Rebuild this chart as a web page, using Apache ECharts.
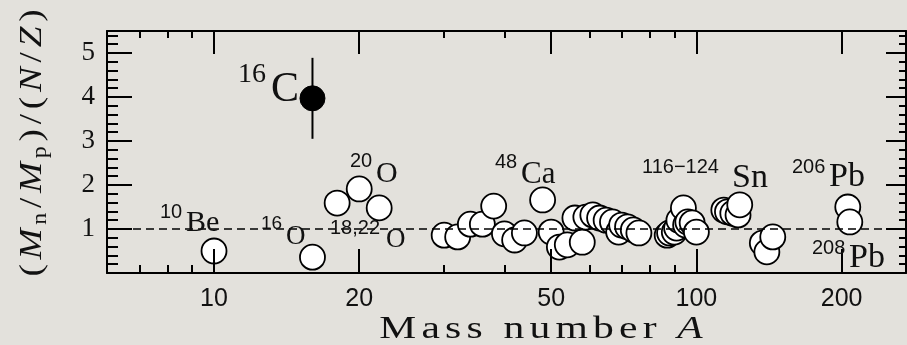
<!DOCTYPE html>
<html><head><meta charset="utf-8">
<script src="https://cdn.jsdelivr.net/npm/echarts@6/dist/echarts.min.js"></script>
<style>html,body{margin:0;padding:0;background:#e3e1dc;} #c{width:907px;height:345px;}</style>
</head><body><div id="c"></div><script>
// ---- data (mass number A, ratio (Mn/Mp)/(N/Z)) ----
const massNumbers = [10, 16, 18, 20, 22, 30, 32, 34, 36, 38, 40, 42, 44, 48, 50, 52, 54, 58, 56, 59, 61, 63, 65, 67, 69, 70, 72, 74, 76, 87, 88, 90, 91, 92, 94, 95, 96, 98, 100, 114, 116, 119, 122, 123, 137, 140, 144, 206, 208];
const ratios      = [0.50, 0.36, 1.59, 1.91, 1.48, 0.86, 0.82, 1.11, 1.11, 1.52, 0.89, 0.75, 0.91, 1.66, 0.93, 0.59, 0.64, 0.70, 1.25, 1.27, 1.32, 1.25, 1.20, 1.16, 0.93, 1.09, 1.05, 0.98, 0.91, 0.86, 0.91, 0.93, 1.02, 1.20, 1.48, 1.09, 1.16, 1.14, 0.93, 1.43, 1.39, 1.36, 1.32, 1.55, 0.68, 0.48, 0.82, 1.50, 1.16];
const carbonMass  = [16];
const carbonRatio = [3.97];
const carbonError = [0.92];
const referenceLevel = 1;
// ---- ticks ----
const xMajorTicks = [10, 20, 50, 100, 200];
const xMinorTicks = [7, 8, 9, 30, 40, 60, 70, 80, 90];
const xRange = [6, 272];
const yMajorTicks = [0, 1, 2, 3, 4, 5];
const yTickLabels = [1, 2, 3, 4, 5];
const yMinorTicks = [0.2, 0.4, 0.6, 0.8, 1.2, 1.4, 1.6, 1.8, 2.2, 2.4, 2.6, 2.8, 3.2, 3.4, 3.6, 3.8, 4.2, 4.4, 4.6, 4.8, 5.2, 5.4];
const yRange = [0, 5.5];

const lg = Math.log10;
const SERIF = 'Liberation Serif';
const SANS = 'Liberation Sans';

function xAxisDef(pos, ticks, len, showLine, labels) {
  return {
    type: 'value', position: pos, min: lg(xRange[0]), max: lg(xRange[1]), z: 10,
    splitLine: {show: false},
    axisLine: {show: showLine, onZero: false, lineStyle: {color: '#000', width: 2}},
    axisTick: {show: true, inside: true, length: len, customValues: ticks.map(lg), lineStyle: {color: '#000', width: 2}},
    axisLabel: labels ? {show: true, customValues: ticks.map(lg), margin: 14,
      formatter: v => String(Math.round(Math.pow(10, v))),
      fontFamily: SANS, fontSize: 25, color: '#111'} : {show: false}
  };
}
function yAxisDef(pos, ticks, len, showLine, labels) {
  return {
    type: 'value', position: pos, min: yRange[0], max: yRange[1], z: 10,
    splitLine: {show: false},
    axisLine: {show: showLine, onZero: false, lineStyle: {color: '#000', width: 2}},
    axisTick: {show: true, inside: true, length: len, customValues: ticks, lineStyle: {color: '#000', width: 2}},
    axisLabel: labels ? {show: true, customValues: labels, margin: 12,
      fontFamily: SERIF, fontSize: 27, color: '#111'} : {show: false}
  };
}

const pointData = massNumbers.map((a, i) => [lg(a), ratios[i]]);
const carbonData = carbonMass.map((a, i) => [lg(a), carbonRatio[i], carbonError[i]]);

const labelItems = [
  {t: '10', x: 160, y: 212, s: 20, f: SANS},
  {t: 'Be', x: 186, y: 223, s: 30, f: SERIF},
  {t: '16', x: 238, y: 75, s: 28, f: SERIF},
  {t: 'C', x: 271, y: 90, s: 42, f: SERIF},
  {t: '16', x: 261, y: 224, s: 19, f: SANS},
  {t: 'O', x: 286, y: 237, s: 27, f: SERIF},
  {t: '18,22', x: 330, y: 228, s: 20, f: SANS},
  {t: 'O', x: 386, y: 240, s: 27, f: SERIF},
  {t: '20', x: 350, y: 161, s: 20, f: SANS},
  {t: 'O', x: 376, y: 174, s: 30, f: SERIF},
  {t: '48', x: 495, y: 162, s: 20, f: SANS},
  {t: 'Ca', x: 521, y: 175, s: 31, f: SERIF},
  {t: '116\u2212124', x: 642, y: 167, s: 20, f: SANS},
  {t: 'Sn', x: 732, y: 178, s: 34, f: SERIF},
  {t: '206', x: 792, y: 167, s: 20, f: SANS},
  {t: 'Pb', x: 829, y: 177, s: 34, f: SERIF},
  {t: '208', x: 812, y: 248, s: 20, f: SANS},
  {t: 'Pb', x: 849, y: 258, s: 34, f: SERIF}
];

const xTitleText = 'Mass number ';
const xTitleRich = xTitleText.split('').map(c => '{c|' + c + '}').join('') + '{i|A}';

const graphics = labelItems.map(l => ({
  type: 'text', x: l.x, y: l.y, z: 20,
  style: {text: l.t, fontFamily: l.f, fontSize: l.s, fill: '#111', align: 'left', verticalAlign: 'middle'}
}));
graphics.push({
  type: 'text', x: 541, y: 330, z: 20, scaleX: 1.3,
  style: {
    text: xTitleRich, align: 'center', verticalAlign: 'middle',
    rich: {
      c: {fontFamily: SERIF, fontSize: 32, fill: '#111', padding: [0, 2, 0, 2]},
      i: {fontFamily: SERIF, fontStyle: 'italic', fontSize: 32, fill: '#111', padding: [0, 2, 0, 2]}
    }
  }
});
graphics.push({
  type: 'text', x: 33, y: 143, rotation: Math.PI / 2, scaleX: 1.2, z: 20,
  style: {
    text: '{p|(}{i|M}{s|n}{p|/}{i|M}{s|p}{p|)}{p|/}{p|(}{i|N}{p|/}{i|Z}{p|)}',
    align: 'center', verticalAlign: 'middle',
    rich: {
      p: {fontFamily: SERIF, fontSize: 31, lineHeight: 36, fill: '#111', padding: [0, 2, 0, 2]},
      i: {fontFamily: SERIF, fontStyle: 'italic', fontSize: 31, lineHeight: 36, fill: '#111', padding: [0, 2, 0, 2]},
      s: {fontFamily: SERIF, fontSize: 20, lineHeight: 16, verticalAlign: 'bottom', fill: '#111', padding: [0, 2, 0, 1]}
    }
  }
});

const chart = echarts.init(document.getElementById('c'), null, {renderer: 'canvas'});
chart.setOption({
  backgroundColor: '#e3e1dc',
  animation: false,
  grid: {left: 107, right: 1, top: 31, bottom: 72, containLabel: false, outerBoundsMode: 'none'},
  xAxis: [
    xAxisDef('bottom', xMajorTicks, 24, true, true),
    xAxisDef('bottom', xMinorTicks, 8, false, false),
    xAxisDef('top', xMajorTicks, 23, true, false),
    xAxisDef('top', xMinorTicks, 7, false, false)
  ],
  yAxis: [
    yAxisDef('left', yMajorTicks, 25, true, yTickLabels),
    yAxisDef('left', yMinorTicks, 11, false, null),
    yAxisDef('right', yMajorTicks, 20, true, null),
    yAxisDef('right', yMinorTicks, 7, false, null)
  ],
  series: [
    {
      type: 'scatter', xAxisIndex: 0, yAxisIndex: 0, data: pointData, symbol: 'circle', symbolSize: 25, z: 3,
      itemStyle: {color: '#ffffff', borderColor: '#000', borderWidth: 1.8, opacity: 1}
    },
    {
      type: 'line', xAxisIndex: 0, yAxisIndex: 0, z: 5, symbol: 'none',
      data: [[lg(xRange[0]), referenceLevel], [lg(xRange[1]), referenceLevel]],
      lineStyle: {color: '#000', width: 1.6, type: [8, 5]}
    },
    {
      type: 'custom', xAxisIndex: 0, yAxisIndex: 0, z: 4, data: carbonData,
      renderItem: (params, api) => {
        const x = api.value(0), y = api.value(1), e = api.value(2);
        const t = api.coord([x, y + e]), b = api.coord([x, y - e]);
        return {type: 'line', shape: {x1: t[0], y1: t[1], x2: b[0], y2: b[1]}, style: {stroke: '#000', lineWidth: 2}};
      }
    },
    {
      type: 'scatter', xAxisIndex: 0, yAxisIndex: 0, z: 6, data: carbonData.map(d => [d[0], d[1]]),
      symbol: 'circle', symbolSize: 25, itemStyle: {color: '#000', borderColor: '#000', borderWidth: 1, opacity: 1}
    }
  ],
  graphic: graphics
});
</script></body></html>
